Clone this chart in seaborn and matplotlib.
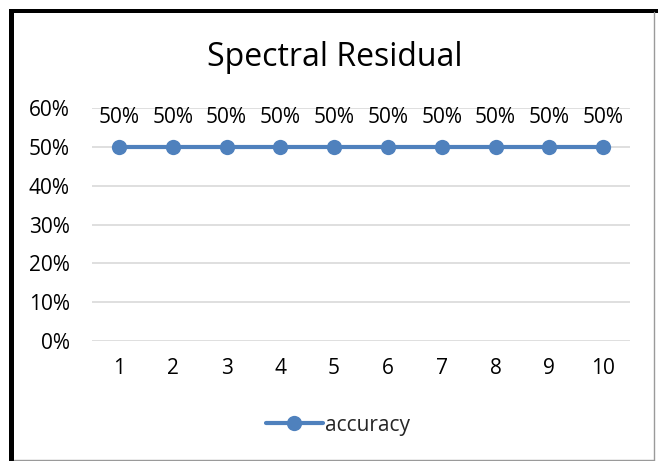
import numpy as np
import pandas as pd
import seaborn as sns
import matplotlib.pyplot as plt
from matplotlib.patches import Rectangle
from matplotlib.lines import Line2D
from matplotlib.ticker import PercentFormatter

# chart data
runs = [1, 2, 3, 4, 5, 6, 7, 8, 9, 10]
accuracy = [0.5, 0.5, 0.5, 0.5, 0.5, 0.5, 0.5, 0.5, 0.5, 0.5]
y_ticks = [0.0, 0.1, 0.2, 0.3, 0.4, 0.5, 0.6]

df = pd.DataFrame({"Run": runs, "accuracy": accuracy})

sns.set_theme(style="white")
plt.rcParams['font.family'] = ['Open Sans', 'DejaVu Sans']

blue = "#4f81bd"
fs = 15

fig = plt.figure(figsize=(6.58, 4.61), dpi=100)
ax = fig.add_axes([92 / 658, 120 / 461, 538 / 658, 233 / 461])

sns.lineplot(data=df, x="Run", y="accuracy", ax=ax, color=blue, linewidth=3,
             marker="o", markersize=11, markeredgewidth=0, legend=False)

# data labels
for x, y in zip(df["Run"], df["accuracy"]):
    ax.annotate(f"{y:.0%}", (x, y), xytext=(0, 21), textcoords="offset points",
                ha="center", va="center", fontsize=fs, color="#000000")

ax.set_xlim(0.5, 10.5)
ax.set_ylim(0, 0.6)
ax.set_xticks(runs)
ax.set_yticks(y_ticks)
ax.yaxis.set_major_formatter(PercentFormatter(1.0, decimals=0))
ax.tick_params(axis="both", length=0, labelsize=fs, colors="#000000")
ax.tick_params(axis="y", pad=16)
ax.tick_params(axis="x", pad=12)
ax.grid(axis="y", color="#d9d9d9", linewidth=1.2)
ax.set_axisbelow(True)
for s in ax.spines.values():
    s.set_visible(False)
ax.set_xlabel("")
ax.set_ylabel("")

fig.text(335 / 658, 1 - 58 / 461, "Spectral Residual", ha="center", va="center",
         fontsize=23, color="#000000")

handle = Line2D([], [], color=blue, linewidth=3, marker="o", markersize=11,
                markeredgewidth=0)
fig.legend([handle], ["accuracy"], loc="center", bbox_to_anchor=(338 / 658, 1 - 425 / 461),
           frameon=False, fontsize=fs, handlelength=2.7, handletextpad=0.1)

# chart border
fig.patches.append(Rectangle((9 / 658, 0), 5 / 658, 1 - 9 / 461, transform=fig.transFigure,
                             facecolor="black", edgecolor="none"))
fig.patches.append(Rectangle((9 / 658, 1 - 13 / 461), 1 - 9 / 658, 4 / 461,
                             transform=fig.transFigure, facecolor="black", edgecolor="none"))
fig.lines.append(Line2D([654 / 658, 654 / 658], [1 / 461, 1 - 12 / 461], transform=fig.transFigure,
                        color="#9a9a9a", linewidth=1))
fig.lines.append(Line2D([14 / 658, 654 / 658], [1.5 / 461, 1.5 / 461], transform=fig.transFigure,
                        color="#9a9a9a", linewidth=1))

fig.savefig("out.png", dpi=100)
